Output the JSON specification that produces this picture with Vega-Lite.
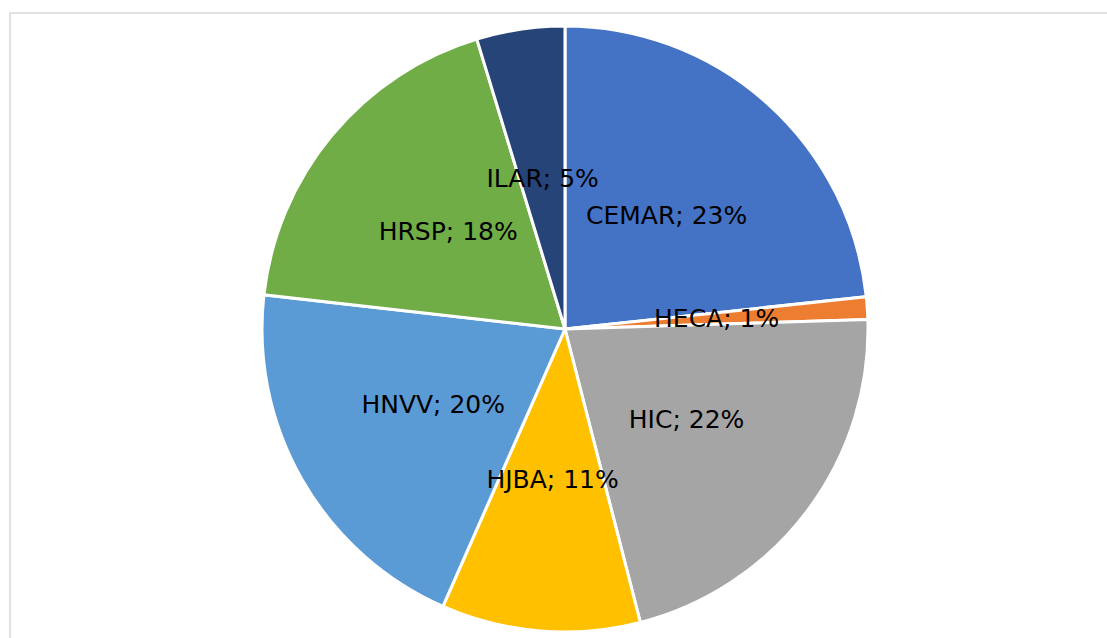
{
  "$schema": "https://vega.github.io/schema/vega-lite/v6.json",
  "autosize": {"type": "none"},
  "width": 1110,
  "height": 632,
  "padding": {"left": 10, "top": 13, "right": 0, "bottom": 0},
  "background": "white",
  "view": {"stroke": "#d9d9d9", "strokeWidth": 1.5},
  "data": {
    "values": [
      {"name": "CEMAR", "value": 23.3, "label": "CEMAR; 23%"},
      {"name": "HECA", "value": 1.2, "label": "HECA; 1%"},
      {"name": "HIC", "value": 21.5, "label": "HIC; 22%"},
      {"name": "HJBA", "value": 10.6, "label": "HJBA; 11%"},
      {"name": "HNVV", "value": 20.2, "label": "HNVV; 20%"},
      {"name": "HRSP", "value": 18.5, "label": "HRSP; 18%"},
      {"name": "ILAR", "value": 4.7, "label": "ILAR; 5%"}
    ]
  },
  "encoding": {
    "theta": {"field": "value", "type": "quantitative", "stack": true},
    "order": {"field": "order", "type": "quantitative"}
  },
  "transform": [{"window": [{"op": "row_number", "as": "order"}]}],
  "layer": [
    {
      "mark": {"type": "arc", "outerRadius": 303, "stroke": "white", "strokeWidth": 3},
      "encoding": {
        "color": {
          "field": "name",
          "type": "nominal",
          "sort": null,
          "scale": {
            "domain": ["CEMAR", "HECA", "HIC", "HJBA", "HNVV", "HRSP", "ILAR"],
            "range": ["#4472C4", "#ED7D31", "#A5A5A5", "#FFC000", "#5B9BD5", "#70AD47", "#264478"]
          },
          "legend": null
        }
      }
    },
    {
      "mark": {"type": "text", "radius": 152, "font": "DejaVu Sans", "fontSize": 25, "color": "black"},
      "encoding": {"text": {"field": "label", "type": "nominal"}}
    }
  ]
}
